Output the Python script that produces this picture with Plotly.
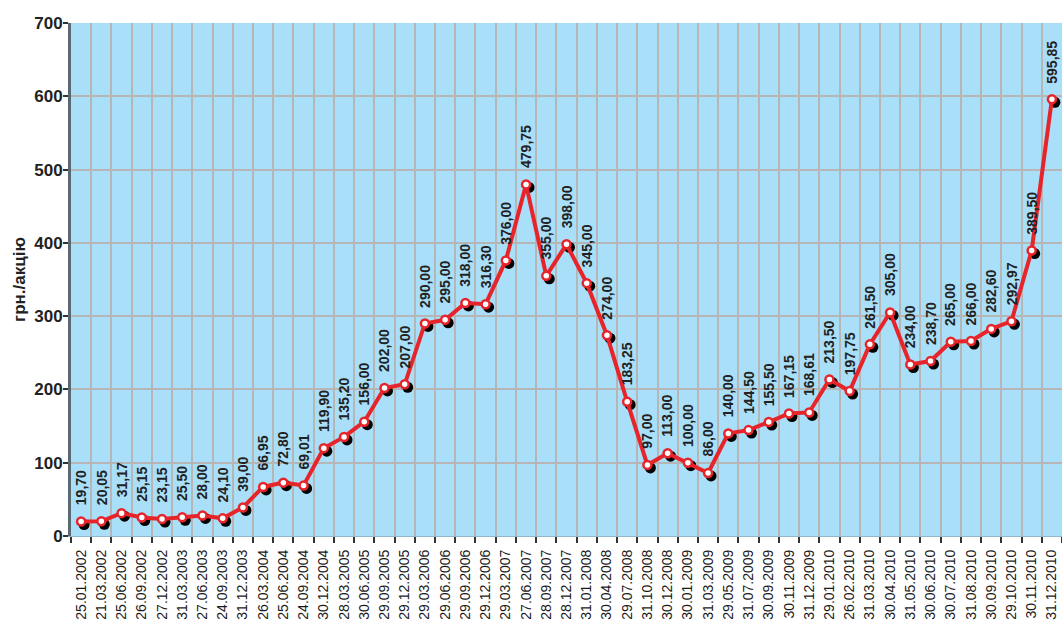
import plotly.graph_objects as go

# share price data
dates = [
    "25.01.2002", "21.03.2002", "25.06.2002", "26.09.2002", "27.12.2002",
    "31.03.2003", "27.06.2003", "24.09.2003", "31.12.2003", "26.03.2004",
    "25.06.2004", "24.09.2004", "30.12.2004", "28.03.2005", "30.06.2005",
    "29.09.2005", "29.12.2005", "29.03.2006", "29.06.2006", "29.09.2006",
    "29.12.2006", "29.03.2007", "27.06.2007", "28.09.2007", "28.12.2007",
    "31.01.2008", "30.04.2008", "29.07.2008", "31.10.2008", "30.12.2008",
    "30.01.2009", "31.03.2009", "29.05.2009", "31.07.2009", "30.09.2009",
    "30.11.2009", "31.12.2009", "29.01.2010", "26.02.2010", "31.03.2010",
    "30.04.2010", "31.05.2010", "30.06.2010", "30.07.2010", "31.08.2010",
    "30.09.2010", "29.10.2010", "30.11.2010", "31.12.2010",
]
prices = [
    19.70, 20.05, 31.17, 25.15, 23.15, 25.50, 28.00, 24.10, 39.00, 66.95,
    72.80, 69.01, 119.90, 135.20, 156.00, 202.00, 207.00, 290.00, 295.00, 318.00,
    316.30, 376.00, 479.75, 355.00, 398.00, 345.00, 274.00, 183.25, 97.00, 113.00,
    100.00, 86.00, 140.00, 144.50, 155.50, 167.15, 168.61, 213.50, 197.75, 261.50,
    305.00, 234.00, 238.70, 265.00, 266.00, 282.60, 292.97, 389.50, 595.85,
]
y_ticks = [0, 100, 200, 300, 400, 500, 600, 700]

W, H = 1062, 625
M = dict(l=71, r=0, t=23, b=89)
plot_w = W - M["l"] - M["r"]
plot_h = H - M["t"] - M["b"]

x_range = [-0.5, len(dates) - 0.5]
y_range = [0, 700]
# shadow offset in pixels, converted to axis units
sx = 3 * (x_range[1] - x_range[0]) / plot_w
sy = 3 * (y_range[1] - y_range[0]) / plot_h

fig = go.Figure()

# invisible trace so the base axes (grid, ticks, labels) get drawn
fig.add_trace(go.Scatter(
    x=dates, y=prices, mode="lines", line=dict(width=0, color="rgba(0,0,0,0)"),
    hoverinfo="skip", showlegend=False,
))
# marker shadows
fig.add_trace(go.Scatter(
    x=dates, y=prices, mode="markers", xaxis="x2", yaxis="y2",
    marker=dict(size=11, color="black"), hoverinfo="skip", showlegend=False,
))
# main line
fig.add_trace(go.Scatter(
    x=dates, y=prices, mode="lines+markers", xaxis="x3", yaxis="y3",
    line=dict(color="#e8242b", width=4),
    marker=dict(size=8, color="white", line=dict(color="#e8242b", width=2.5)),
    showlegend=False,
))

for d, p in zip(dates, prices):
    fig.add_annotation(
        x=d, y=p, xref="x3", yref="y3", text=f"{p:.2f}".replace(".", ","),
        textangle=-90, showarrow=False, xanchor="center", yanchor="bottom",
        yshift=14, font=dict(family="Arial", size=14, color="#222222", weight="bold"),
    )

fig.update_layout(
    width=W, height=H, margin=M,
    paper_bgcolor="white", plot_bgcolor="#a9dff8",
    font=dict(family="Arial", color="#222222"),
    xaxis=dict(
        type="category", range=x_range, tickson="boundaries",
        showgrid=True, gridcolor="#b6b6b6", gridwidth=1.5,
        ticks="outside", ticklen=6, tickcolor="#333333", tickwidth=1.5,
        tickangle=-90, ticklabelstandoff=7,
        tickfont=dict(size=14, color="#1a1a1a"),
        showline=True, linecolor="#8fb9cc", linewidth=1, automargin=False,
    ),
    yaxis=dict(
        range=y_range, tickvals=y_ticks,
        showgrid=True, gridcolor="#b6b6b6", gridwidth=1.5,
        ticks="outside", ticklen=5, tickcolor="#333333", tickwidth=1.5,
        ticklabelstandoff=-3,
        tickfont=dict(size=17, color="#222222", weight="bold"),
        showline=True, linecolor="#5a6a72", linewidth=3, zeroline=False,
        automargin=False,
        title=dict(text="грн./акцію", standoff=5,
                   font=dict(size=17, color="#222222", weight="bold")),
    ),
    xaxis2=dict(type="category", overlaying="x", showticklabels=False,
                showgrid=False, showline=False, ticks="", zeroline=False,
                range=[x_range[0] - sx, x_range[1] - sx]),
    yaxis2=dict(overlaying="y", showticklabels=False,
                showgrid=False, showline=False, ticks="", zeroline=False,
                range=[y_range[0] + sy, y_range[1] + sy]),
    xaxis3=dict(type="category", overlaying="x", showticklabels=False,
                showgrid=False, showline=False, ticks="", zeroline=False,
                range=x_range),
    yaxis3=dict(overlaying="y", showticklabels=False,
                showgrid=False, showline=False, ticks="", zeroline=False,
                range=y_range),
)

fig.write_html("out.html", config={"displayModeBar": False},
               post_script="document.body.style.margin = '0';")
